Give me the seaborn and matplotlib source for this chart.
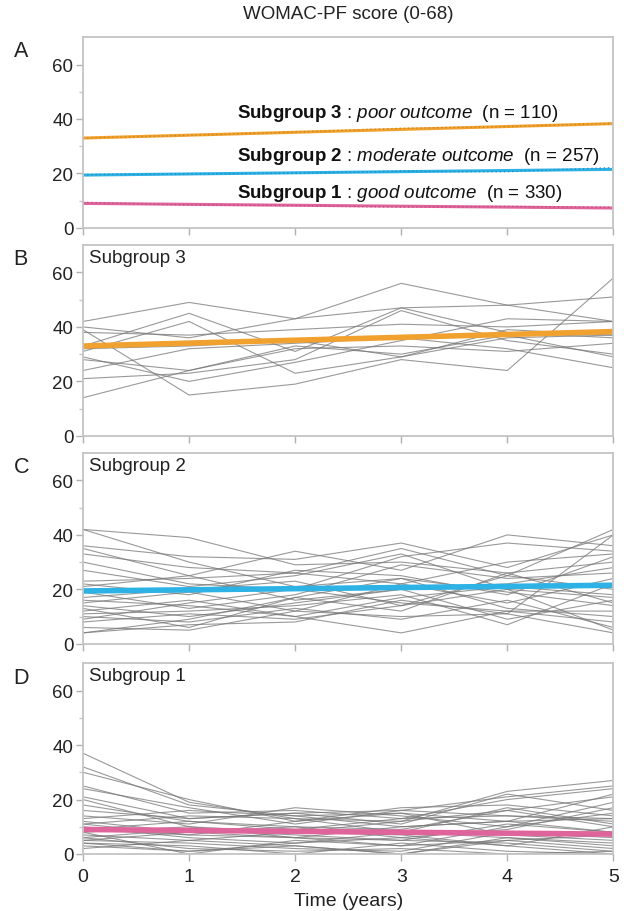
import numpy as np
import pandas as pd
import matplotlib
matplotlib.use('Agg')
import matplotlib.pyplot as plt
import seaborn as sb

# years of follow-up
years = [0, 1, 2, 3, 4, 5]
fit_years = [0, 5]

# fitted trajectory per subgroup (start, end)
fit_sub3 = [33.0, 38.3]
fit_sub2 = [19.4, 21.5]
fit_sub1 = [9.0, 7.3]

# observed group means, drawn dotted in panel A
mean_sub3 = [33.0, 34.0, 35.2, 36.6, 37.2, 38.4]
mean_sub2 = [19.6, 19.8, 20.1, 20.8, 20.6, 22.2]
mean_sub1 = [9.4, 8.4, 8.2, 7.6, 7.9, 7.6]

# a sample of individual patients, WOMAC-PF at each year
traj_sub3 = [
    [42, 49, 43, 56, 48, 42],
    [40, 36, 43, 47, 48, 51],
    [38, 37, 39, 41, 40, 42],
    [33, 45, 31, 47, 38, 36],
    [31, 42, 23, 29, 39, 37],
    [29, 20, 27, 35, 43, 42],
    [28, 24, 33, 30, 37, 29],
    [24, 32, 34, 36, 32, 25],
    [21, 23, 28, 46, 35, 30],
    [14, 24, 32, 33, 31, 34],
    [39, 15, 19, 28, 24, 58],
    [32, 33, 35, 29, 36, 37],
]
traj_sub2 = [
    [42, 39, 29, 30, 26, 30],
    [42, 30, 21, 24, 19, 14],
    [36, 32, 31, 37, 28, 40],
    [35, 25, 34, 27, 40, 36],
    [33, 28, 26, 35, 25, 42],
    [30, 22, 20, 32, 37, 34],
    [23, 24, 26, 22, 30, 33],
    [22, 18, 27, 25, 18, 32],
    [21, 25, 16, 20, 22, 28],
    [19, 13, 18, 29, 24, 26],
    [17, 20, 23, 14, 25, 20],
    [16, 14, 10, 17, 21, 18],
    [15, 19, 12, 22, 15, 24],
    [14, 10, 15, 20, 9, 16],
    [13, 6, 17, 12, 26, 15],
    [12, 16, 10, 4, 12, 8],
    [11, 12, 14, 18, 7, 22],
    [10, 8, 13, 9, 16, 6],
    [9, 15, 20, 15, 12, 12],
    [8, 11, 9, 14, 20, 5],
    [6, 5, 12, 10, 11, 4],
    [4, 9, 17, 24, 13, 10],
    [4, 7, 8, 16, 11, 40],
    [27, 21, 25, 33, 20, 17],
]
traj_sub1 = [
    [37, 19, 13, 12, 16, 10],
    [32, 18, 14, 15, 12, 8],
    [30, 20, 12, 17, 18, 14],
    [25, 15, 16, 13, 20, 24],
    [24, 17, 11, 16, 14, 12],
    [21, 13, 15, 11, 22, 16],
    [20, 10, 8, 12, 23, 27],
    [18, 12, 10, 9, 16, 21],
    [14, 11, 17, 14, 10, 19],
    [12, 8, 6, 10, 12, 13],
    [11, 14, 13, 8, 17, 11],
    [10, 6, 4, 6, 9, 17],
    [9, 7, 12, 15, 7, 5],
    [8, 0, 5, 3, 10, 15],
    [7, 5, 3, 0, 6, 3],
    [6, 9, 7, 5, 4, 1],
    [5, 4, 2, 1, 8, 6],
    [4, 3, 0, 4, 1, 0],
    [3, 1, 3, 0, 5, 2],
    [2, 5, 8, 7, 3, 10],
    [13, 16, 14, 10, 12, 22],
    [6, 2, 1, 2, 0, 1],
    [11, 7, 6, 5, 11, 8],
    [9, 12, 9, 13, 14, 13],
    [16, 13, 15, 16, 21, 25],
    [5, 8, 10, 6, 3, 0],
    [4, 1, 4, 8, 6, 4],
    [8, 10, 6, 3, 5, 7],
]

sub_colors = {3: '#f0a12e', 2: '#2db2e6', 1: '#e0649c'}
dot_colors = {3: '#c07a10', 2: '#1a7fb0', 1: '#b8406f'}
group_labels = {3: 'poor outcome', 2: 'moderate outcome', 1: 'good outcome'}
group_n = {3: 110, 2: 257, 1: 330}

sb.set_style('ticks')
plt.rcParams['font.family'] = ['Liberation Sans', 'DejaVu Sans']
plt.rcParams['mathtext.fontset'] = 'custom'
plt.rcParams['mathtext.rm'] = 'Liberation Sans'
plt.rcParams['mathtext.it'] = 'Liberation Sans:italic'
plt.rcParams['mathtext.bf'] = 'Liberation Sans:bold'


def long_frame(trajs):
    '''turn the list of patient rows into a long frame for seaborn'''
    rows = {'id': [], 'year': [], 'score': []}
    for pid, t in enumerate(trajs):
        for yr, s in zip(years, t):
            rows['id'].append(pid)
            rows['year'].append(yr)
            rows['score'].append(s)
    return pd.DataFrame(rows)


def style_axis(ax, show_xlabels=False):
    ax.set_xlim(0, 5)
    ax.set_ylim(0, 70)
    ax.set_yticks([0, 20, 40, 60])
    ax.set_yticks([10, 30, 50], minor=True)
    ax.set_xticks(years)
    for sp in ax.spines.values():
        sp.set_visible(True)
        sp.set_color('#c4c4c4')
        sp.set_linewidth(1.3)
    ax.tick_params(axis='both', which='major', length=5, width=1, color='#b0b0b0',
                   labelsize=13.5, labelcolor='#222222', pad=2)
    ax.tick_params(axis='x', which='major', labelsize=14, pad=5)
    ax.tick_params(axis='y', which='minor', length=3, width=1, color='#c8c8c8')
    if not show_xlabels:
        ax.set_xticklabels([])
    ax.set_xlabel('')
    ax.set_ylabel('')


fig = plt.figure(figsize=(6.24, 9.12), dpi=100)
left, width = 0.133, 0.850
bottoms = [0.749, 0.521, 0.293, 0.0625]
height = 0.209

# panel A: fitted lines of the three subgroups
axA = fig.add_axes([left, bottoms[0], width, height])
fits = {3: fit_sub3, 2: fit_sub2, 1: fit_sub1}
means = {3: mean_sub3, 2: mean_sub2, 1: mean_sub1}
text_y = {3: 42.3, 2: 26.7, 1: 13.1}
for g in [3, 2, 1]:
    sb.lineplot(x=fit_years, y=fits[g], ax=axA, color=sub_colors[g], linewidth=2.2)
    sb.lineplot(x=years, y=means[g], ax=axA, color=dot_colors[g], linewidth=1.0,
                linestyle=(0, (1, 2)), alpha=0.7)
    label = r'$\bf{Subgroup\ %d}$ : $\it{%s}$  (n = %d)' % (g, group_labels[g].replace(' ', r'\ '), group_n[g])
    axA.text(1.45, text_y[g], label, fontsize=13.5, va='center', ha='left', color='#111111')
style_axis(axA)

# panels B-D: individual patients with subgroup fit on top
panel_data = [(3, traj_sub3), (2, traj_sub2), (1, traj_sub1)]
for i, (g, trajs) in enumerate(panel_data):
    ax = fig.add_axes([left, bottoms[i + 1], width, height])
    frame = long_frame(trajs)
    sb.lineplot(data=frame, x='year', y='score', units='id', estimator=None, ax=ax,
                color='#777777', linewidth=0.8, alpha=0.75)
    sb.lineplot(x=fit_years, y=fits[g], ax=ax, color=sub_colors[g], linewidth=4)
    ax.text(0.06, 65.5, 'Subgroup %d' % g, fontsize=13.5, va='center', ha='left', color='#222222')
    style_axis(ax, show_xlabels=(i == 2))

fig.axes[-1].set_xlabel('Time (years)', fontsize=14, color='#222222', labelpad=5)

for lab, b in zip(['A', 'B', 'C', 'D'], bottoms):
    fig.text(0.022, b + height - 0.015, lab, fontsize=15.5, color='#222222', va='center')

fig.text(left + width / 2, 0.984, 'WOMAC-PF score (0-68)', fontsize=13.5, ha='center',
         va='center', color='#222222')

plt.savefig('out.png', dpi=100)
